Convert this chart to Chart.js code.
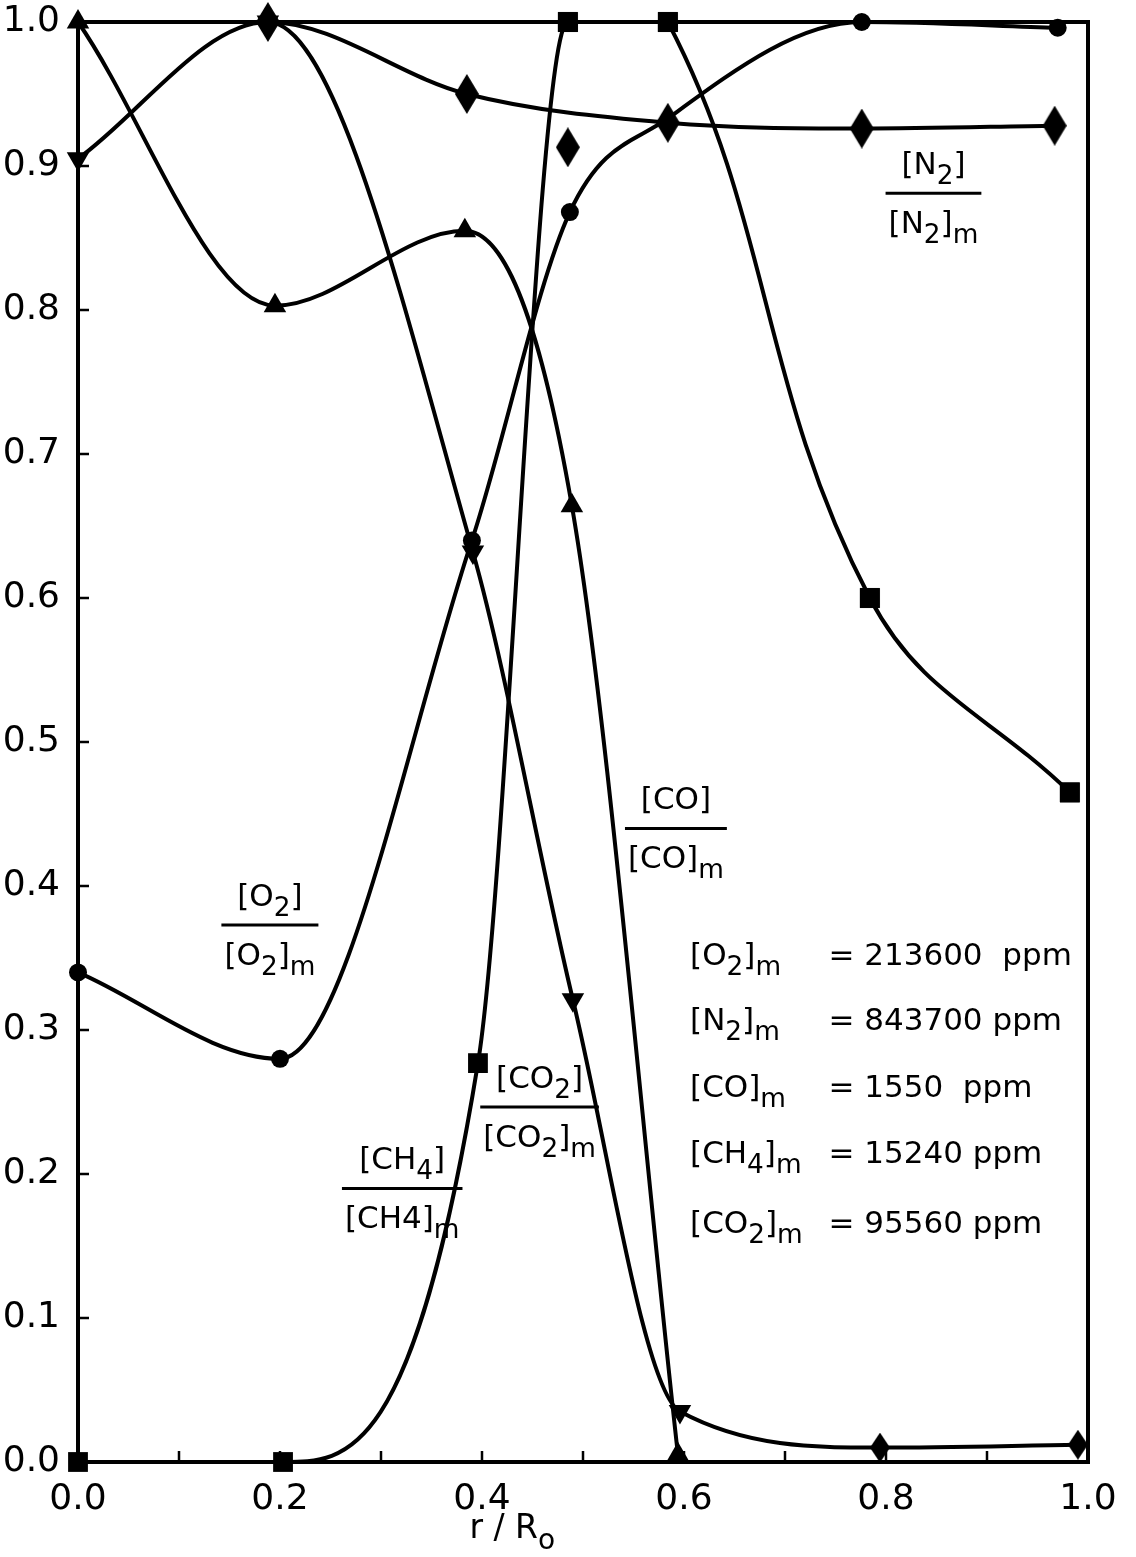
<!DOCTYPE html>
<html>
<head>
<meta charset="utf-8">
<title>Radial concentration profiles</title>
<script src="https://cdn.jsdelivr.net/npm/chart.js@4.4.1/dist/chart.umd.min.js"></script>
<style>
  html, body { margin: 0; padding: 0; background: #fff; }
  #wrap { width: 1136px; height: 1557px; position: relative; }
</style>
</head>
<body>
<div id="wrap"><canvas id="profiles"></canvas></div>
<script>
// r/R0 positions and normalised concentrations, one pair of arrays per species
const o2R    = [0, 0.2, 0.39, 0.487, 0.584, 0.776, 0.97];
const o2Val  = [0.34, 0.28, 0.64, 0.868, 0.933, 1.0, 0.996];

const n2R    = [0, 0.188, 0.385, 0.584, 0.776, 0.967];
const n2Val  = [1.0, 1.0, 0.95, 0.93, 0.926, 0.928];
// N2 reading that sits off the faired curve
const n2OffR   = [0.485];
const n2OffVal = [0.913];

const coR    = [0, 0.195, 0.383, 0.489, 0.594];
const coVal  = [1.0, 0.803, 0.855, 0.664, 0.005];

const ch4R   = [0, 0.188, 0.391, 0.49, 0.596, 0.794, 0.99];
const ch4Val = [0.905, 1.0, 0.632, 0.321, 0.035, 0.01, 0.012];

const co2R   = [0, 0.203, 0.396, 0.485, 0.584, 0.784, 0.982];
const co2Val = [0, 0, 0.277, 1.0, 1.0, 0.6, 0.465];

const xTicks = [0, 0.2, 0.4, 0.6, 0.8, 1.0];
const yTicks = [0, 0.1, 0.2, 0.3, 0.4, 0.5, 0.6, 0.7, 0.8, 0.9, 1.0];

// reference concentrations listed in the corner box
const refNames  = [[['[O', 0], ['2', 1], [']', 0], ['m', 1]],
                   [['[N', 0], ['2', 1], [']', 0], ['m', 1]],
                   [['[CO]', 0], ['m', 1]],
                   [['[CH', 0], ['4', 1], [']', 0], ['m', 1]],
                   [['[CO', 0], ['2', 1], [']', 0], ['m', 1]]];
const refValues = ['= 213600  ppm', '= 843700 ppm', '= 1550  ppm', '= 15240 ppm', '= 95560 ppm'];

const FONT = '"DejaVu Sans", "Liberation Sans", sans-serif';
const font = (px) => px + 'px ' + FONT;

function pts(xs, ys) {
  return xs.map((x, i) => ({ x: x, y: ys[i] }));
}

function diamond(w, h) {
  const c = document.createElement('canvas');
  c.width = w; c.height = h;
  const g = c.getContext('2d');
  g.fillStyle = '#000';
  g.beginPath();
  g.moveTo(w / 2, 0); g.lineTo(w, h / 2); g.lineTo(w / 2, h); g.lineTo(0, h / 2);
  g.closePath(); g.fill();
  return c;
}
const bigDiamond = diamond(24, 40);
const smallDiamond = diamond(20, 30);

// text with subscripts: parts are [string, isSub]
function richWidth(ctx, parts, size) {
  let w = 0;
  for (const [s, sub] of parts) {
    ctx.font = font(sub ? size * 0.85 : size);
    w += ctx.measureText(s).width;
  }
  return w;
}
function drawRich(ctx, parts, x, y, size, align) {
  const w = richWidth(ctx, parts, size);
  let cx = align === 'center' ? x - w / 2 : x;
  for (const [s, sub] of parts) {
    ctx.font = font(sub ? size * 0.85 : size);
    ctx.fillText(s, cx, sub ? y + size * 0.32 : y);
    cx += ctx.measureText(s).width;
  }
}

// fraction labels next to each curve, anchored in data units
const fractions = [
  { x: 0.847, y: 0.881, num: [['[N', 0], ['2', 1], [']', 0]], den: [['[N', 0], ['2', 1], [']', 0], ['m', 1]] },
  { x: 0.592, y: 0.440, num: [['[CO]', 0]], den: [['[CO]', 0], ['m', 1]] },
  { x: 0.190, y: 0.373, num: [['[O', 0], ['2', 1], [']', 0]], den: [['[O', 0], ['2', 1], [']', 0], ['m', 1]] },
  { x: 0.457, y: 0.2465, num: [['[CO', 0], ['2', 1], [']', 0]], den: [['[CO', 0], ['2', 1], [']', 0], ['m', 1]] },
  { x: 0.321, y: 0.190, num: [['[CH', 0], ['4', 1], [']', 0]], den: [['[CH4]', 0], ['m', 1]] }
];

const decorations = {
  id: 'decorations',
  afterDraw(chart) {
    const { ctx, chartArea: a, scales: { x, y } } = chart;
    ctx.save();
    ctx.strokeStyle = '#000';
    ctx.fillStyle = '#000';

    // frame
    ctx.lineWidth = 4;
    ctx.strokeRect(a.left, a.top, a.right - a.left, a.bottom - a.top);

    // inward tick marks
    ctx.lineWidth = 2.5;
    ctx.beginPath();
    for (let i = 1; i < 10; i++) {
      const px = x.getPixelForValue(i / 10);
      ctx.moveTo(px, a.bottom); ctx.lineTo(px, a.bottom - 11);
      const py = y.getPixelForValue(i / 10);
      ctx.moveTo(a.left, py); ctx.lineTo(a.left + 11, py);
    }
    ctx.stroke();

    // axis title
    ctx.textBaseline = 'alphabetic';
    drawRich(ctx, [['r / R', 0], ['o', 1]], x.getPixelForValue(0.43), a.bottom + 76, 33, 'center');

    // curve labels
    const fs = 31;
    for (const f of fractions) {
      const cx = x.getPixelForValue(f.x);
      const by = y.getPixelForValue(f.y);
      const w = Math.max(richWidth(ctx, f.num, fs), richWidth(ctx, f.den, fs)) + 6;
      drawRich(ctx, f.num, cx, by - 19, fs, 'center');
      drawRich(ctx, f.den, cx, by + 40, fs, 'center');
      ctx.lineWidth = 3;
      ctx.beginPath();
      ctx.moveTo(cx - w / 2, by); ctx.lineTo(cx + w / 2, by);
      ctx.stroke();
    }

    // reference concentration box
    const rowY = [0.345, 0.30, 0.2535, 0.2076, 0.159];
    refNames.forEach((parts, i) => {
      const py = y.getPixelForValue(rowY[i]);
      drawRich(ctx, parts, x.getPixelForValue(0.606), py, fs, 'left');
      ctx.font = font(fs);
      ctx.fillText(refValues[i], x.getPixelForValue(0.743), py);
    });
    ctx.restore();
  }
};

const line = { borderColor: '#000', backgroundColor: '#000', borderWidth: 4, showLine: true,
               cubicInterpolationMode: 'monotone', clip: 24, pointBorderWidth: 0 };

// the CO2 profile is faired in two pieces: a monotone rise and a free bezier fall
const co2Rise = pts(co2R, co2Val).slice(0, 5);
const co2Fall = pts(co2R, co2Val).slice(3);

new Chart(document.getElementById('profiles'), {
  type: 'scatter',
  data: {
    datasets: [
      Object.assign({ label: 'O2', data: pts(o2R, o2Val), pointStyle: 'circle',
        pointRadius: [9, 9, 9, 9, 0, 9, 9] }, line),
      Object.assign({ label: 'N2', data: pts(n2R, n2Val), pointStyle: bigDiamond,
        pointRadius: [0, 10, 10, 10, 10, 10] }, line),
      { label: 'N2 off-curve', data: pts(n2OffR, n2OffVal), pointStyle: bigDiamond, showLine: false, clip: 24 },
      Object.assign({ label: 'CO', data: pts(coR, coVal), pointStyle: 'triangle', pointRadius: 13 }, line),
      Object.assign({ label: 'CH4', data: pts(ch4R, ch4Val),
        pointStyle: ['triangle', 'triangle', 'triangle', 'triangle', 'triangle', smallDiamond, smallDiamond],
        pointRotation: [180, 180, 180, 180, 180, 0, 0], pointRadius: 13 }, line),
      Object.assign({ label: 'CO2', data: co2Rise, pointStyle: 'rect', pointRadius: 14 }, line),
      Object.assign({}, line, { label: 'CO2 fall', data: co2Fall, pointStyle: 'rect', pointRadius: 14,
        cubicInterpolationMode: 'default', tension: 0.4, clip: 0 }),
      { label: 'CO2 marks', data: co2Fall, pointStyle: 'rect', pointRadius: 14, backgroundColor: '#000',
        showLine: false, clip: 24 }
    ]
  },
  options: {
    responsive: true,
    maintainAspectRatio: false,
    animation: false,
    layout: { padding: { top: 22, right: 48, left: 0, bottom: 0 } },
    plugins: { legend: { display: false }, tooltip: { enabled: false } },
    scales: {
      x: {
        type: 'linear', min: 0, max: 1,
        grid: { display: false, drawTicks: false },
        border: { display: false },
        afterBuildTicks: (s) => { s.ticks = xTicks.map(v => ({ value: v })); },
        afterFit: (s) => { s.height = 95; s.paddingLeft = 0; s.paddingRight = 0; },
        ticks: { color: '#000', font: { family: FONT, size: 36 }, padding: 16,
                 callback: (v) => v.toFixed(1) }
      },
      y: {
        type: 'linear', min: 0, max: 1,
        grid: { display: false, drawTicks: false },
        border: { display: false },
        afterBuildTicks: (s) => { s.ticks = yTicks.map(v => ({ value: v })); },
        afterFit: (s) => { s.width = 78; s.paddingTop = 0; s.paddingBottom = 0; },
        ticks: { color: '#000', font: { family: FONT, size: 36 }, padding: 18,
                 callback: (v) => v.toFixed(1) }
      }
    }
  },
  plugins: [decorations]
});
</script>
</body>
</html>
